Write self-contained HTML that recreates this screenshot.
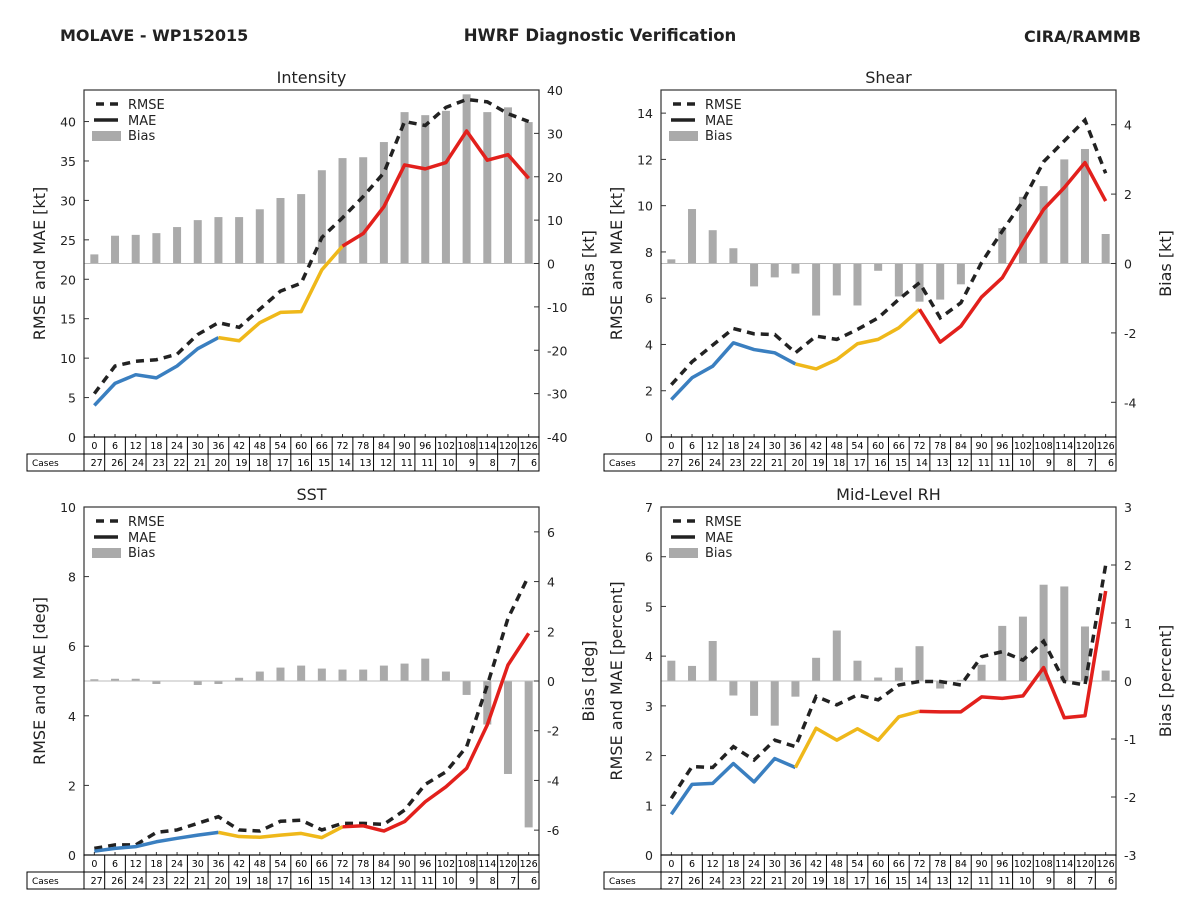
<!DOCTYPE html>
<html><head><meta charset="utf-8"><style>
body{margin:0;background:#fff;}
svg{display:block;font-family:"DejaVu Sans","Liberation Sans",sans-serif;}
</style></head><body>
<svg id="c" width="1200" height="900">
<text x="60" y="41" font-size="16" font-weight="bold" fill="#222">MOLAVE - WP152015</text>
<text x="600" y="41" font-size="16.5" font-weight="bold" fill="#222" text-anchor="middle">HWRF Diagnostic Verification</text>
<text x="1141" y="42" font-size="16" font-weight="bold" fill="#222" text-anchor="end">CIRA/RAMMB</text>
</svg>
<script>
const hours=[0,6,12,18,24,30,36,42,48,54,60,66,72,78,84,90,96,102,108,114,120,126];
const cases=[27,26,24,23,22,21,20,19,18,17,16,15,14,13,12,11,11,10,9,8,7,6];
const intRmse=[5.5,9,9.6,9.8,10.5,13,14.5,13.9,16.2,18.5,19.5,25.3,27.8,30.5,33.5,40,39.5,41.8,42.8,42.5,41,40];
const intMae=[4,6.8,7.9,7.5,9,11.2,12.6,12.2,14.5,15.8,15.9,21.2,24.2,25.8,29.2,34.5,34,34.8,38.8,35.1,35.8,32.8];
const intBias=[2.1,6.4,6.6,7.0,8.4,10,10.7,10.7,12.5,15.1,16,21.5,24.3,24.5,28,34.9,34.2,35.2,39,34.9,36,32.6];
const shrRmse=[2.26,3.25,3.97,4.69,4.46,4.43,3.64,4.36,4.22,4.65,5.15,5.95,6.67,5.15,5.8,7.54,8.9,10.2,11.9,12.8,13.7,11.4];
const shrMae=[1.62,2.56,3.06,4.07,3.78,3.64,3.16,2.94,3.35,4.03,4.22,4.72,5.52,4.1,4.79,6.05,6.88,8.4,9.84,10.78,11.86,10.2];
const shrBias=[0.12,1.57,0.96,0.44,-0.66,-0.4,-0.29,-1.5,-0.92,-1.21,-0.21,-0.95,-1.1,-1.04,-0.6,-0.02,1.02,1.92,2.23,3.0,3.3,0.85];
const sstRmse=[0.19,0.29,0.29,0.65,0.72,0.91,1.1,0.72,0.69,0.97,1.0,0.72,0.91,0.91,0.88,1.29,2.03,2.39,3.11,4.88,6.8,8.02];
const sstMae=[0.11,0.19,0.24,0.38,0.48,0.57,0.65,0.53,0.51,0.57,0.62,0.5,0.81,0.84,0.69,0.96,1.53,1.96,2.49,3.74,5.46,6.37];
const sstBias=[0.07,0.09,0.09,-0.12,0.01,-0.16,-0.12,0.13,0.38,0.54,0.62,0.5,0.46,0.46,0.62,0.7,0.9,0.38,-0.56,-1.75,-3.74,-5.89];
const rhRmse=[1.14,1.78,1.76,2.18,1.91,2.31,2.18,3.19,3.02,3.22,3.12,3.42,3.49,3.49,3.42,3.99,4.09,3.92,4.3,3.49,3.42,5.83];
const rhMae=[0.82,1.42,1.44,1.84,1.47,1.94,1.76,2.55,2.31,2.54,2.31,2.78,2.89,2.88,2.88,3.18,3.15,3.2,3.77,2.76,2.8,5.31];
const rhBias=[0.35,0.26,0.69,-0.25,-0.6,-0.77,-0.27,0.4,0.87,0.35,0.06,0.23,0.6,-0.13,0.02,0.28,0.95,1.11,1.66,1.63,0.94,0.18];

const NS="http://www.w3.org/2000/svg";
const svg=document.getElementById('c');
function mk(tag,attrs,parent,text){const e=document.createElementNS(NS,tag);for(const k in attrs)e.setAttribute(k,attrs[k]);if(text!==undefined)e.textContent=text;(parent||svg).appendChild(e);return e;}

const panels=[
 {key:'intensity',title:'Intensity',x0:84,y0:90,x1:539,y1:437,lmax:44,lstep:5,lticks:8,rmin:-40,rmax:40,rstep:10,ylab:'RMSE and MAE [kt]',rlab:'Bias [kt]',rmse:intRmse,mae:intMae,bias:intBias},
 {key:'shear',title:'Shear',x0:661,y0:90,x1:1116,y1:437,lmax:15,lstep:2,lticks:7,rmin:-5,rmax:5,rstep:2,ylab:'RMSE and MAE [kt]',rlab:'Bias [kt]',rmse:shrRmse,mae:shrMae,bias:shrBias},
 {key:'sst',title:'SST',x0:84,y0:507,x1:539,y1:855,lmax:10,lstep:2,lticks:5,rmin:-7,rmax:7,rstep:2,ylab:'RMSE and MAE [deg]',rlab:'Bias [deg]',rmse:sstRmse,mae:sstMae,bias:sstBias},
 {key:'rh',title:'Mid-Level RH',x0:661,y0:507,x1:1116,y1:855,lmax:7,lstep:1,lticks:7,rmin:-3,rmax:3,rstep:1,ylab:'RMSE and MAE [percent]',rlab:'Bias [percent]',rmse:rhRmse,mae:rhMae,bias:rhBias}
];

panels.forEach(p=>{
 const g=mk('g',{});
 
 
 const n=hours.length, cw=(p.x1-p.x0)/n;
 const xs=i=>p.x0+cw*(i+0.5);
 const yl=v=>p.y1-(v/p.lmax)*(p.y1-p.y0);
 const yr=v=>p.y1-((v-p.rmin)/(p.rmax-p.rmin))*(p.y1-p.y0);
 p.bias.forEach((b,i)=>{
  const r=mk('rect',{x:xs(i)-4,y:Math.min(yr(0),yr(b)),width:8,height:Math.max(0.6,Math.abs(yr(b)-yr(0))),fill:'#aaaaaa'},g);
  
  
 });
 mk('line',{x1:p.x0,x2:p.x1,y1:yr(0),y2:yr(0),stroke:'#bbbbbb','stroke-width':1},g);
 const rp=mk('polyline',{points:p.rmse.map((v,i)=>xs(i)+','+yl(v)).join(' '),fill:'none',stroke:'#222','stroke-width':3.5,'stroke-dasharray':'8,6'},g);
 
 
 const segs=[[0,6,'#3a7fc0'],[6,12,'#efb81a'],[12,21,'#e2201c']];
 segs.forEach(s=>{
  const pts=[];for(let i=s[0];i<=s[1];i++)pts.push(xs(i)+','+yl(p.mae[i]));
  const l=mk('polyline',{points:pts.join(' '),fill:'none',stroke:s[2],'stroke-width':3.5,'stroke-linejoin':'round'},g);
  
  
 });
 mk('rect',{x:p.x0,y:p.y0,width:p.x1-p.x0,height:p.y1-p.y0,fill:'none',stroke:'#333','stroke-width':1.2},g);
 for(let k=0;k<=p.lticks;k++){const v=k*p.lstep,y=yl(v);
  mk('line',{x1:p.x0,x2:p.x0+5,y1:y,y2:y,stroke:'#333'},g);
  mk('text',{x:p.x0-8,y:y+5,'font-size':12.5,'text-anchor':'end',fill:'#222'},g,String(v));}
 for(let v=p.rmin+(p.rmin%p.rstep===0?0:1);v<=p.rmax;v+=p.rstep){
  if(v<p.rmin)continue;const y=yr(v);
  mk('line',{x1:p.x1-5,x2:p.x1,y1:y,y2:y,stroke:'#333'},g);
  mk('text',{x:p.x1+8,y:y+5,'font-size':12.5,fill:'#222'},g,String(v));}
 for(let i=0;i<n;i++){mk('line',{x1:xs(i),x2:xs(i),y1:p.y1,y2:p.y1-3,stroke:'#333'},g);}
 const t=mk('text',{x:(p.x0+p.x1)/2,y:p.y0-7,'font-size':16,'text-anchor':'middle',fill:'#222'},g,p.title);
 
 
 const cy=(p.y0+p.y1)/2;
 mk('text',{x:0,y:0,'font-size':16,'text-anchor':'middle',fill:'#222',transform:`translate(${p.x0-39},${cy}) rotate(-90)`},g,p.ylab);
 mk('text',{x:0,y:0,'font-size':16,'text-anchor':'middle',fill:'#222',transform:`translate(${p.x1+55},${cy}) rotate(-90)`},g,p.rlab);
 const lg=mk('g',{},g);
 
 
 const lx=p.x0+10,ly=p.y0+14;
 mk('line',{x1:lx+2,x2:lx+24,y1:ly,y2:ly,stroke:'#222','stroke-width':3.5,'stroke-dasharray':'8,6'},lg);
 mk('text',{x:lx+34,y:ly+5,'font-size':13,fill:'#222'},lg,'RMSE');
 mk('line',{x1:lx,x2:lx+24,y1:ly+16,y2:ly+16,stroke:'#222','stroke-width':3.5},lg);
 mk('text',{x:lx+34,y:ly+21,'font-size':13,fill:'#222'},lg,'MAE');
 mk('rect',{x:lx-2,y:ly+27,width:29,height:10,fill:'#aaaaaa'},lg);
 mk('text',{x:lx+34,y:ly+36,'font-size':13,fill:'#222'},lg,'Bias');
 const tb=mk('g',{},g);
 
 
 const ty=p.y1, rh=17;
 mk('rect',{x:p.x0,y:ty,width:p.x1-p.x0,height:rh,fill:'none',stroke:'#000','stroke-width':1},tb);
 mk('rect',{x:p.x0-57,y:ty+rh,width:p.x1-p.x0+57,height:rh,fill:'none',stroke:'#000','stroke-width':1},tb);
 mk('line',{x1:p.x0,x2:p.x0,y1:ty+rh,y2:ty+2*rh,stroke:'#000'},tb);
 mk('text',{x:p.x0-52,y:ty+rh+12,'font-size':9,fill:'#000'},tb,'Cases');
 for(let i=0;i<n;i++){
  const cx=p.x0+cw*i;
  if(i>0)mk('line',{x1:cx,x2:cx,y1:ty,y2:ty+2*rh,stroke:'#000'},tb);
  mk('text',{x:cx+cw/2,y:ty+12,'font-size':9.5,'text-anchor':'middle',fill:'#000'},tb,String(hours[i]));
  mk('text',{x:cx+cw-2,y:ty+rh+12,'font-size':9.5,'text-anchor':'end',fill:'#000'},tb,String(cases[i]));
 }
});
</script>
</body></html>
